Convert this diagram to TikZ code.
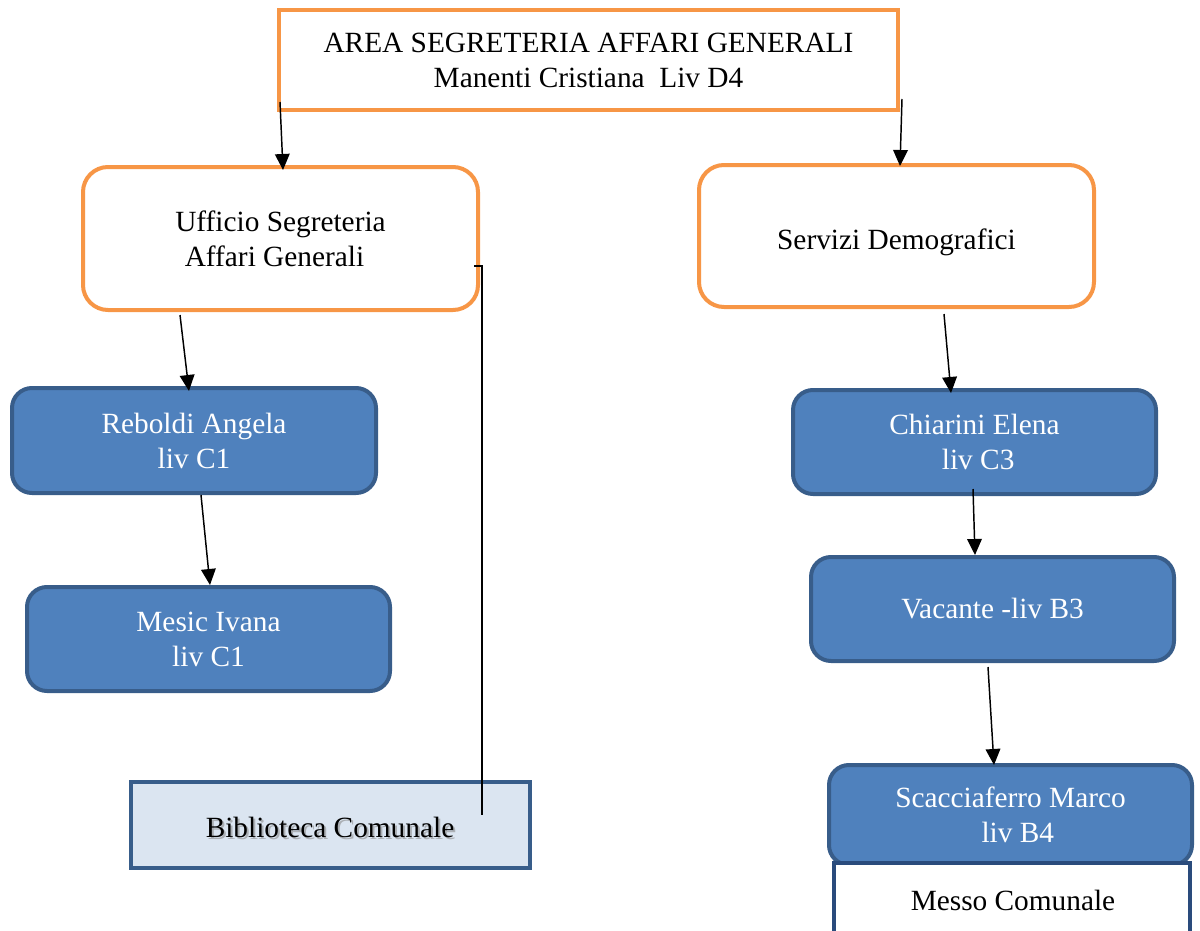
\documentclass[tikz,border=0pt]{standalone}
\usepackage{fontspec}
\setmainfont{Liberation Serif}
\usetikzlibrary{arrows.meta,calc}
\definecolor{orng}{HTML}{F79646}
\definecolor{bfill}{HTML}{4F81BD}
\definecolor{bbord}{HTML}{385D8A}
\definecolor{lfill}{HTML}{DBE5F1}
\definecolor{dbord}{HTML}{2A4B7C}
\begin{document}
\begin{tikzpicture}[x=0.75pt,y=-0.75pt,
  txt/.style={align=center,font=\fontsize{22}{26.25}\selectfont,inner sep=0pt},
  orangebox/.style={txt,draw=orng,line width=3pt,fill=white},
  bluebox/.style={txt,draw=bbord,fill=bfill,line width=3pt,rounded corners=15pt,text=white,minimum width=272.25pt},
  arr/.style={-{Triangle[length=12pt,width=11pt]},line width=1.1pt,black},
  conn/.style={line width=1.1pt,black}]
\useasboundingbox (0,0) rectangle (1200,931);
\clip (0,0) rectangle (1200,931);

\node[orangebox,minimum width=464.25pt,minimum height=75pt] (top) at (588.5,60)
  {AREA SEGRETERIA AFFARI GENERALI\\Manenti Cristiana\ \ Liv D4};
\node[orangebox,rounded corners=18.75pt,minimum width=296.25pt,minimum height=107.25pt] (uff) at (280.5,238.5)
  {Ufficio Segreteria\\Affari Generali\hspace*{9pt}};
\node[orangebox,rounded corners=18.75pt,minimum width=296.25pt,minimum height=106.5pt] (serv) at (896.5,236)
  {\raisebox{-4.5pt}[\height][\depth]{Servizi Demografici}};

\node[bluebox,minimum width=273pt,minimum height=78.75pt] (reb) at (194,440.5) {Reboldi Angela\\liv C1};
\node[bluebox,minimum height=78pt] (mes) at (208.5,639) {Mesic Ivana\\liv C1};
\node[bluebox,minimum height=78pt] (chi) at (974.5,442) {Chiarini Elena\\\ liv C3};
\node[bluebox,minimum height=78pt] (vac) at (992.5,609) {Vacante -liv B3};
\node[bluebox,minimum height=75pt] (sca) at (1010.5,815) {Scacciaferro Marco\\\ \ liv B4};

\node[txt,draw=dbord,fill=white,line width=3pt,minimum width=267pt,minimum height=54pt] (messo) at (1012,899) {};
\node[txt] (messot) at (1013,900) {Messo Comunale};

\node[txt,draw=bbord,fill=lfill,line width=3pt,minimum width=299.25pt,minimum height=64.5pt] (bib) at (330.5,825) {};
\node[txt,text=black!45,opacity=0.6] (bibsh) at (332,829) {Biblioteca Comunale};
\node[txt] (bibt) at (330,827.5) {Biblioteca Comunale};

\draw[arr] ($(top.south west)+(3,-10)$) -- ($(uff.north west)+(202,5)$);
\draw[arr] ($(top.south east)+(2,-13)$) -- ($(serv.north west)+(203,3)$);
\draw[arr] ($(uff.south west)+(99,3)$) -- ($(reb.north west)+(179,5)$);
\draw[arr] ($(reb.south west)+(191,0)$) -- ($(mes.north west)+(185,0)$);
\draw[arr] ($(serv.south west)+(247,5)$) -- ($(chi.north west)+(160,5)$);
\draw[arr] ($(chi.south west)+(182,-7)$) -- ($(vac.north west)+(166,0)$);
\draw[arr] ($(vac.south west)+(179,4)$) -- ($(sca.north west)+(167,2)$);
\draw[conn] ($(uff.east)+(-6,27.5)$) -- ++(8,0) |- ($(bib.north west)+(353,35)$);
\end{tikzpicture}
\end{document}
